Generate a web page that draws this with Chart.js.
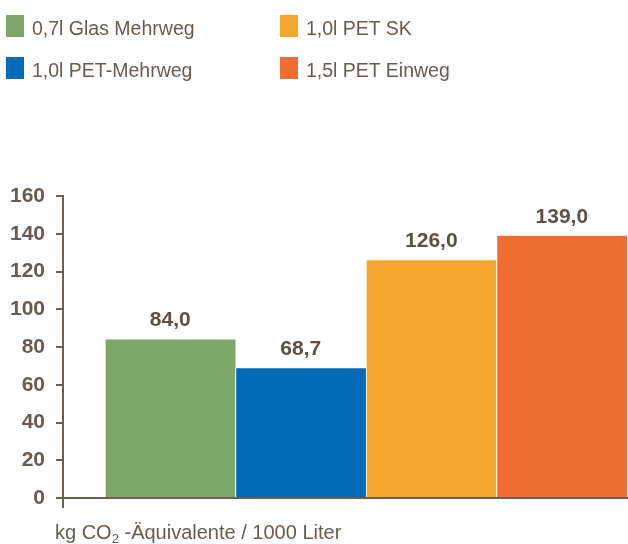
<!DOCTYPE html>
<html>
<head>
<meta charset="utf-8">
<script src="https://cdn.jsdelivr.net/npm/chart.js@4/dist/chart.umd.min.js"></script>
<style>
  html, body { margin: 0; padding: 0; background: #fff; }
  #wrap { position: relative; width: 628px; height: 544px; overflow: hidden; }
  #c { position: absolute; left: 0; top: 0; }
  .lg-box { position: absolute; width: 18px; height: 22px; }
  .lg-txt { position: absolute; font-family: "Liberation Sans", Arial, sans-serif; font-size: 19.5px; line-height: 1; color: #6a5a4f; white-space: nowrap; }
  #xtitle { position: absolute; left: 55px; top: 522px; font-family: "Liberation Sans", Arial, sans-serif; font-size: 20px; line-height: 1; color: #6a5a4f; white-space: nowrap; }
  #xtitle sub { font-size: 13px; vertical-align: -4px; line-height: 0; }
</style>
</head>
<body>
<div id="wrap">
  <canvas id="c" width="628" height="544"></canvas>
  <div id="xtitle">kg CO<sub>2</sub> -Äquivalente / 1000 Liter</div>
</div>
<script>
const categories = ["0,7l Glas Mehrweg", "1,0l PET-Mehrweg", "1,0l PET SK", "1,5l PET Einweg"];
const values = [84.0, 68.7, 126.0, 139.0];
const colors = ["#7da86a", "#006bb6", "#f4a62c", "#ef6d31"];
const yTicks = [0, 20, 40, 60, 80, 100, 120, 140, 160];

const textColor = "#6a5a4f";
const axisColor = "#6f5e52";

// HTML legend (2 columns, column-major order)
const legendPos = [
  { bx: 6, by: 15, tx: 32, ty: 18.5 },
  { bx: 6, by: 57, tx: 32, ty: 61 },
  { bx: 280, by: 15, tx: 306, ty: 18.5 },
  { bx: 280, by: 57, tx: 306, ty: 61 }
];
const wrap = document.getElementById("wrap");
categories.forEach((name, i) => {
  const p = legendPos[i];
  const b = document.createElement("div");
  b.className = "lg-box";
  b.style.left = p.bx + "px"; b.style.top = p.by + "px"; b.style.background = colors[i];
  const t = document.createElement("div");
  t.className = "lg-txt";
  t.style.left = p.tx + "px"; t.style.top = p.ty + "px";
  t.textContent = name;
  wrap.appendChild(b); wrap.appendChild(t);
});

const points = values.map((v, i) => ({ x: i, y: v }));

const valueLabels = {
  id: "valueLabels",
  afterDatasetsDraw(chart) {
    const ctx = chart.ctx;
    const meta = chart.getDatasetMeta(0);
    ctx.save();
    ctx.font = "bold 21px 'Liberation Sans', Arial, sans-serif";
    ctx.fillStyle = "#5f4f45";
    ctx.textAlign = "center";
    ctx.textBaseline = "alphabetic";
    meta.data.forEach((el, i) => {
      ctx.fillText(values[i].toFixed(1).replace(".", ","), el.x, el.y - 13);
    });
    ctx.restore();
  }
};

new Chart(document.getElementById("c"), {
  type: "bar",
  data: {
    datasets: [{
      data: points,
      backgroundColor: colors,
      borderColor: "#ffffff",
      borderWidth: { left: 1, right: 0, top: 0, bottom: 0 },
      borderSkipped: false,
      barPercentage: 1,
      categoryPercentage: 1
    }]
  },
  options: {
    responsive: false,
    animation: false,
    devicePixelRatio: 1,
    layout: { padding: { top: 196, left: 0, right: 0, bottom: 0 } },
    plugins: { legend: { display: false }, tooltip: { enabled: false } },
    scales: {
      x: {
        type: "linear",
        offset: false,
        min: -0.822,
        max: 3.507,
        afterBuildTicks(scale) { scale.ticks = [{ value: scale.min }]; },
        afterFit(scale) { scale.height = 46; },
        ticks: { display: false },
        grid: { offset: false, drawOnChartArea: false, drawTicks: true, tickLength: 10, color: axisColor, lineWidth: 2 },
        border: { display: true, color: axisColor, width: 2 }
      },
      y: {
        min: 0,
        max: 160,
        afterBuildTicks(scale) { scale.ticks = yTicks.map(v => ({ value: v })); },
        afterFit(scale) { scale.width = 63; },
        ticks: {
          stepSize: 20,
          padding: 11,
          color: textColor,
          font: { family: "'Liberation Sans', Arial, sans-serif", size: 21, weight: "bold" }
        },
        grid: { drawOnChartArea: false, drawTicks: true, tickLength: 7, color: axisColor, lineWidth: 2 },
        border: { display: true, color: axisColor, width: 2 }
      }
    }
  },
  plugins: [valueLabels]
});
</script>
</body>
</html>
